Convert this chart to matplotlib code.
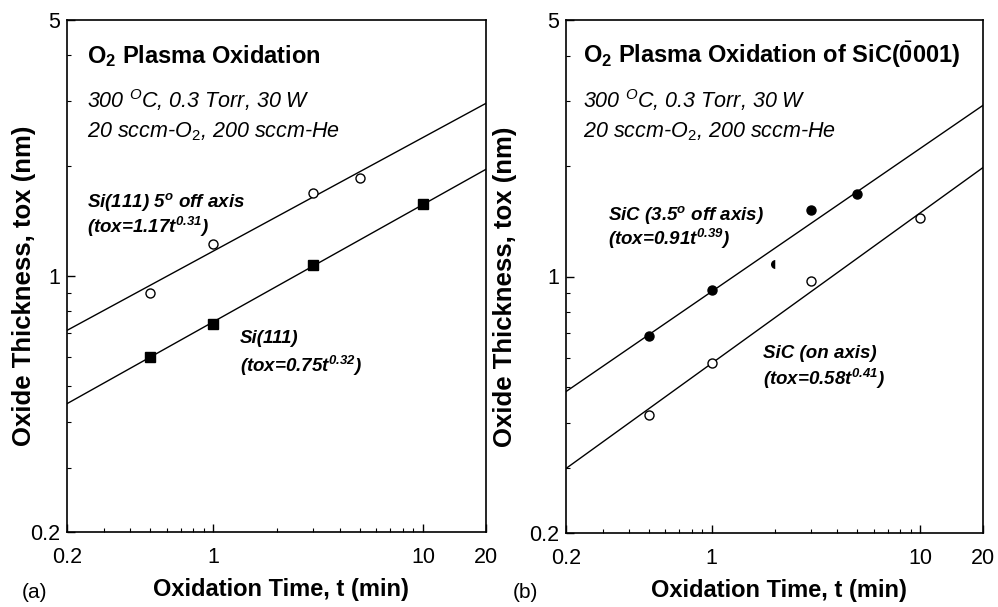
import numpy as np
import matplotlib
matplotlib.use("Agg")
import matplotlib.pyplot as plt
from matplotlib.ticker import FixedLocator, NullFormatter, FixedFormatter

plt.rcParams['font.family'] = ['Liberation Sans', 'DejaVu Sans']
plt.rcParams['mathtext.fontset'] = 'custom'
plt.rcParams['mathtext.rm'] = 'Liberation Sans'
plt.rcParams['mathtext.it'] = 'Liberation Sans:italic'
plt.rcParams['mathtext.bf'] = 'Liberation Sans:bold'
plt.rcParams['mathtext.bfit'] = 'Liberation Sans:bold:italic'

# ---- data ----
t_si_off = [0.5, 1, 3, 5]
tox_si_off = [0.90, 1.22, 1.69, 1.85]
t_si = [0.5, 1, 3, 10]
tox_si = [0.60, 0.74, 1.07, 1.57]
t_sic_off = [0.5, 1, 2, 3, 5]
tox_sic_off = [0.69, 0.92, 1.08, 1.52, 1.68]
t_sic_on = [0.5, 1, 3, 10]
tox_sic_on = [0.42, 0.58, 0.97, 1.44]
fit_si_off = (1.17, 0.31)
fit_si = (0.75, 0.32)
fit_sic_off = (0.91, 0.39)
fit_sic_on = (0.58, 0.41)

x_major = [0.2, 1, 10, 20]
x_major_labels = ['0.2', '1', '10', '20']
y_major = [0.2, 1, 5]
y_major_labels = ['0.2', '1', '5']

W, H = 998, 607
fig = plt.figure(figsize=(W / 100, H / 100), dpi=100)
axL = fig.add_axes([67 / W, (H - 532) / H, 419 / W, 512 / H])
axR = fig.add_axes([566 / W, (H - 533) / H, 417 / W, 513 / H])

tt = np.logspace(np.log10(0.2), np.log10(20), 200)

def style(ax, ylab_x):
    ax.set_xscale('log')
    ax.set_yscale('log')
    ax.set_xlim(0.2, 20)
    ax.set_ylim(0.2, 5)
    ax.xaxis.set_major_locator(FixedLocator(x_major))
    ax.xaxis.set_major_formatter(FixedFormatter(x_major_labels))
    ax.xaxis.set_minor_locator(FixedLocator([0.3, 0.4, 0.5, 0.6, 0.7, 0.8, 0.9,
                                             2, 3, 4, 5, 6, 7, 8, 9]))
    ax.xaxis.set_minor_formatter(NullFormatter())
    ax.yaxis.set_major_locator(FixedLocator(y_major))
    ax.yaxis.set_major_formatter(FixedFormatter(y_major_labels))
    ax.yaxis.set_minor_locator(FixedLocator([0.3, 0.4, 0.5, 0.6, 0.7, 0.8, 0.9, 2, 3, 4]))
    ax.yaxis.set_minor_formatter(NullFormatter())
    ax.tick_params(which='both', direction='in', top=False, right=False, labelsize=15.5)
    ax.tick_params(which='major', length=6, width=1)
    ax.tick_params(which='minor', length=3, width=0.8)
    ax.tick_params(axis='x', pad=11)
    ax.tick_params(axis='y', pad=5)
    for s in ax.spines.values():
        s.set_linewidth(1.2)
    ax.text(0.51, -0.113, 'Oxidation Time, t (min)', transform=ax.transAxes,
            ha='center', va='center', fontsize=17, fontweight='bold')
    ax.text(ylab_x, 0.48, 'Oxide Thickness, tox (nm)', transform=ax.transAxes,
            ha='center', va='center', rotation=90, fontsize=18.5, fontweight='bold')

style(axL, -0.103)
style(axR, -0.146)

# ---- left panel ----
for (a, b) in (fit_si_off, fit_si):
    axL.plot(tt, a * tt ** b, color='black', lw=1.0)
axL.plot(t_si_off, tox_si_off, 'o', ms=6.5, mfc='white', mec='black', mew=1.0)
axL.plot(t_si, tox_si, 's', ms=6.5, mfc='black', mec='black')

axL.text(0.048, 0.916, r'O$_{\mathbf{2}}$ Plasma Oxidation', transform=axL.transAxes,
         fontsize=17, fontweight='bold', va='baseline')
axL.text(0.048, 0.828, r'300 $^{\mathit{O}}$C, 0.3 Torr, 30 W', transform=axL.transAxes,
         fontsize=15.5, style='italic', va='baseline')
axL.text(0.048, 0.771, r'20 sccm-O$_{\mathit{2}}$, 200 sccm-He', transform=axL.transAxes,
         fontsize=15.5, style='italic', va='baseline')
axL.text(0.048, 0.635, r'Si(111) 5$^{\mathbfit{o}}$ off axis', transform=axL.transAxes,
         fontsize=13.5, style='italic', fontweight='bold', va='baseline')
axL.text(0.048, 0.584, r'(tox=%.2ft$^{\mathbfit{%.2f}}$)' % fit_si_off, transform=axL.transAxes,
         fontsize=13.5, style='italic', fontweight='bold', va='baseline')
axL.text(0.413, 0.369, r'Si(111)', transform=axL.transAxes,
         fontsize=13.5, style='italic', fontweight='bold', va='baseline')
axL.text(0.413, 0.3125, r'(tox=%.2ft$^{\mathbfit{%.2f}}$)' % fit_si, transform=axL.transAxes,
         fontsize=13.5, style='italic', fontweight='bold', va='baseline')

# ---- right panel ----
for (a, b) in (fit_sic_off, fit_sic_on):
    axR.plot(tt, a * tt ** b, color='black', lw=1.0)
for t, v in zip(t_sic_off, tox_sic_off):
    axR.plot([t], [v], 'o', ms=6.5, mfc='black', mec='black',
             fillstyle='left' if t == 2 else 'full', mfcalt='white',
             mew=0.0 if t == 2 else 1.0)
axR.plot(t_sic_on, tox_sic_on, 'o', ms=6.5, mfc='white', mec='black', mew=1.0)

axR.text(0.041, 0.916, r'O$_{\mathbf{2}}$ Plasma Oxidation of SiC($\bar{\mathbf{0}}$001)',
         transform=axR.transAxes, fontsize=17, fontweight='bold', va='baseline')
axR.text(0.041, 0.828, r'300 $^{\mathit{O}}$C, 0.3 Torr, 30 W', transform=axR.transAxes,
         fontsize=15.5, style='italic', va='baseline')
axR.text(0.041, 0.771, r'20 sccm-O$_{\mathit{2}}$, 200 sccm-He', transform=axR.transAxes,
         fontsize=15.5, style='italic', va='baseline')
axR.text(0.101, 0.610, r'SiC (3.5$^{\mathbfit{o}}$ off axis)', transform=axR.transAxes,
         fontsize=13.5, style='italic', fontweight='bold', va='baseline')
axR.text(0.101, 0.561, r'(tox=%.2ft$^{\mathbfit{%.2f}}$)' % fit_sic_off, transform=axR.transAxes,
         fontsize=13.5, style='italic', fontweight='bold', va='baseline')
axR.text(0.472, 0.341, r'SiC (on axis)', transform=axR.transAxes,
         fontsize=13.5, style='italic', fontweight='bold', va='baseline')
axR.text(0.472, 0.288, r'(tox=%.2ft$^{\mathbfit{%.2f}}$)' % fit_sic_on, transform=axR.transAxes,
         fontsize=13.5, style='italic', fontweight='bold', va='baseline')

fig.text(22 / W, 1 - 593 / H, '(a)', fontsize=15, ha='left', va='center')
fig.text(513 / W, 1 - 593 / H, '(b)', fontsize=15, ha='left', va='center')

fig.savefig('out.png', dpi=100)
